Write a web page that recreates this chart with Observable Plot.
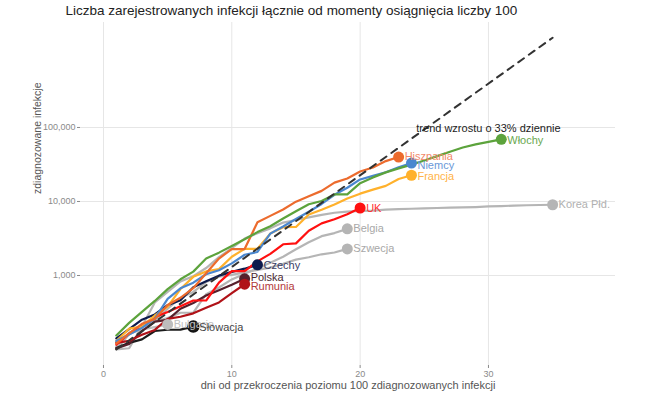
<!DOCTYPE html>
<html><head><meta charset="utf-8">
<script src="https://cdn.jsdelivr.net/npm/d3@7"></script>
<script src="https://cdn.jsdelivr.net/npm/@observablehq/plot@0.6"></script>
<style>
body{margin:0;background:#fff;font-family:"Liberation Sans",Arial,sans-serif}
</style>
</head><body><div id="chart"></div>
<script>
const title = "Liczba zarejestrowanych infekcji łącznie od momenty osiągnięcia liczby 100";
const xLabel = "dni od przekroczenia poziomu 100 zdiagnozowanych infekcji";
const yLabel = "zdiagnozowane infekcje";
const trendLabel = "trend wzrostu o 33% dziennie";
const xTicks = [0, 10, 20, 30];
const yTicks = [1000, 10000, 100000];

// cumulative cases, day 1 = first day with about 100 cases
const koreaPld = [100, 104, 204, 433, 602, 833, 977, 1261, 1766, 2337, 3150, 3736, 4335, 5186, 5621, 6088, 6593, 7041, 7314, 7478, 7513, 7755, 7869, 7979, 8086, 8162, 8236, 8320, 8413, 8565, 8652, 8799, 8897, 8961, 9037];
const belgia = [109, 169, 200, 239, 267, 314, 314, 559, 689, 886, 1058, 1243, 1486, 1795, 2257, 2815, 3401, 3743, 4269];
const szwecja = [101, 161, 203, 248, 355, 500, 599, 814, 961, 1022, 1103, 1190, 1279, 1439, 1639, 1763, 1934, 2046, 2286];
const bulgaria = [127, 163, 187, 201, 218];
const slowacja = [105, 123, 137, 178, 185, 186, 204];
const polska = [103, 119, 177, 238, 251, 355, 425, 536, 634, 749, 901];
const rumunia = [123, 131, 158, 184, 260, 277, 308, 367, 433, 576, 762];
const czechy = [141, 189, 253, 298, 396, 464, 694, 833, 995, 1120, 1236, 1394];
const uk = [116, 164, 207, 274, 322, 384, 459, 459, 802, 1144, 1145, 1551, 1960, 2642, 2716, 4014, 5067, 5745, 6726, 8164];
const francja = [130, 191, 204, 288, 380, 656, 959, 1136, 1219, 1794, 2293, 2293, 3681, 4496, 4532, 6683, 7715, 9124, 10970, 12758, 14463, 16243, 20123, 22622];
const niemcy = [130, 159, 196, 262, 482, 670, 799, 1040, 1176, 1457, 1908, 2078, 3675, 4585, 5795, 7272, 9257, 12327, 15320, 19848, 22213, 24873, 29056, 32986];
const hiszpania = [120, 165, 222, 259, 400, 500, 673, 1073, 1695, 2277, 2277, 5232, 6391, 7798, 9942, 11748, 13910, 17963, 20410, 25374, 28768, 35136, 39885];
const wlochy = [155, 229, 322, 453, 655, 888, 1128, 1694, 2036, 2502, 3089, 3858, 4636, 5883, 7375, 9172, 10149, 12462, 12462, 17660, 21157, 24747, 27980, 31506, 35713, 41035, 47021, 53578, 59138, 63927, 69176];

const countries = ["Korea Płd.", "Belgia", "Szwecja", "Bułgaria", "Słowacja", "Polska", "Rumunia", "Czechy", "UK", "Francja", "Niemcy", "Hiszpania", "Włochy"];
const seriesList = [koreaPld, belgia, szwecja, bulgaria, slowacja, polska, rumunia, czechy, uk, francja, niemcy, hiszpania, wlochy];
const lineColors = ["#b5b5b5", "#b5b5b5", "#b5b5b5", "#bdbdbd", "#1c1c1c", "#55202c", "#b01218", "#0d1b4d", "#ff1010", "#ffb12c", "#4a87cf", "#ec6b2d", "#5ca33c"];
const labelColors = ["#b0b0b0", "#a8a8a8", "#a8a8a8", "#c0c0c0", "#444444", "#4a2a32", "#b33a3a", "#3a4066", "#ff3030", "#ffb347", "#6a98d8", "#f2896a", "#6aa84f"];
const labelShift = [0, 0, 0, 0, 1, -1, 2, 1, 0, 1, 2, -1, 1];

const trendDays = [1, 35];
const trendCases = [100, 1630000];

const rows = countries.flatMap((c, i) => seriesList[i].map((v, j) => ({country: c, day: j + 1, cases: v, i})));
const ends = countries.map((c, i) => ({country: c, day: seriesList[i].length, cases: seriesList[i][seriesList[i].length - 1], i}));
const trend = trendDays.map((d, k) => ({day: d, cases: trendCases[k]}));

const chart = Plot.plot({
  width: 645,
  height: 395,
  marginLeft: 80,
  marginRight: 30,
  marginTop: 22,
  marginBottom: 30,
  style: {fontFamily: "'Liberation Sans', Arial, sans-serif", background: "#fff", overflow: "visible"},
  x: {domain: [-1.79, 39.9]},
  y: {type: "log", domain: [60.8, 2.62e6]},
  marks: [
    Plot.gridX({ticks: xTicks, stroke: "#e6e6e6", strokeOpacity: 1, strokeWidth: 1}),
    Plot.gridY({ticks: yTicks, stroke: "#e6e6e6", strokeOpacity: 1, strokeWidth: 1}),
    Plot.axisX({ticks: xTicks, tickSize: 3, tickPadding: 2, label: null, fill: "#8a8a8a", stroke: "#8a8a8a", fontSize: 9}),
    Plot.axisY({ticks: yTicks, tickSize: 3, tickPadding: 2, label: null, tickFormat: d3.format(","), fill: "#8a8a8a", stroke: "#8a8a8a", fontSize: 9}),
    Plot.line(rows, {x: "day", y: "cases", z: "country", stroke: d => lineColors[d.i], strokeWidth: 2.2, strokeLinejoin: "round"}),
    Plot.line(trend, {x: "day", y: "cases", stroke: "#333", strokeWidth: 2, strokeDasharray: "7,6"}),
    Plot.dot(ends, {x: "day", y: "cases", fill: d => lineColors[d.i], stroke: d => d.country === "Słowacja" ? "#111" : "none", r: 5.5}),
    ...ends.map(e => Plot.text([e], {x: "day", y: "cases", text: "country", fill: labelColors[e.i], dx: 6, dy: labelShift[e.i], textAnchor: "start", fontSize: 11})),
    Plot.text([trendLabel], {x: [30.0], y: [97000], fill: "#222", fontSize: 11, textAnchor: "middle"}),
    Plot.text([title], {frameAnchor: "top-left", dx: -15, dy: -12, lineAnchor: "middle", textAnchor: "start", fontSize: 13.5, fill: "#222"}),
    Plot.text([xLabel], {frameAnchor: "bottom", dy: 20, lineAnchor: "middle", fontSize: 11, fill: "#555"}),
    Plot.text([yLabel], {frameAnchor: "left", dx: -43, rotate: -90, fontSize: 10.5, fill: "#555"})
  ]
});
document.getElementById("chart").appendChild(chart);
</script>
</body></html>
